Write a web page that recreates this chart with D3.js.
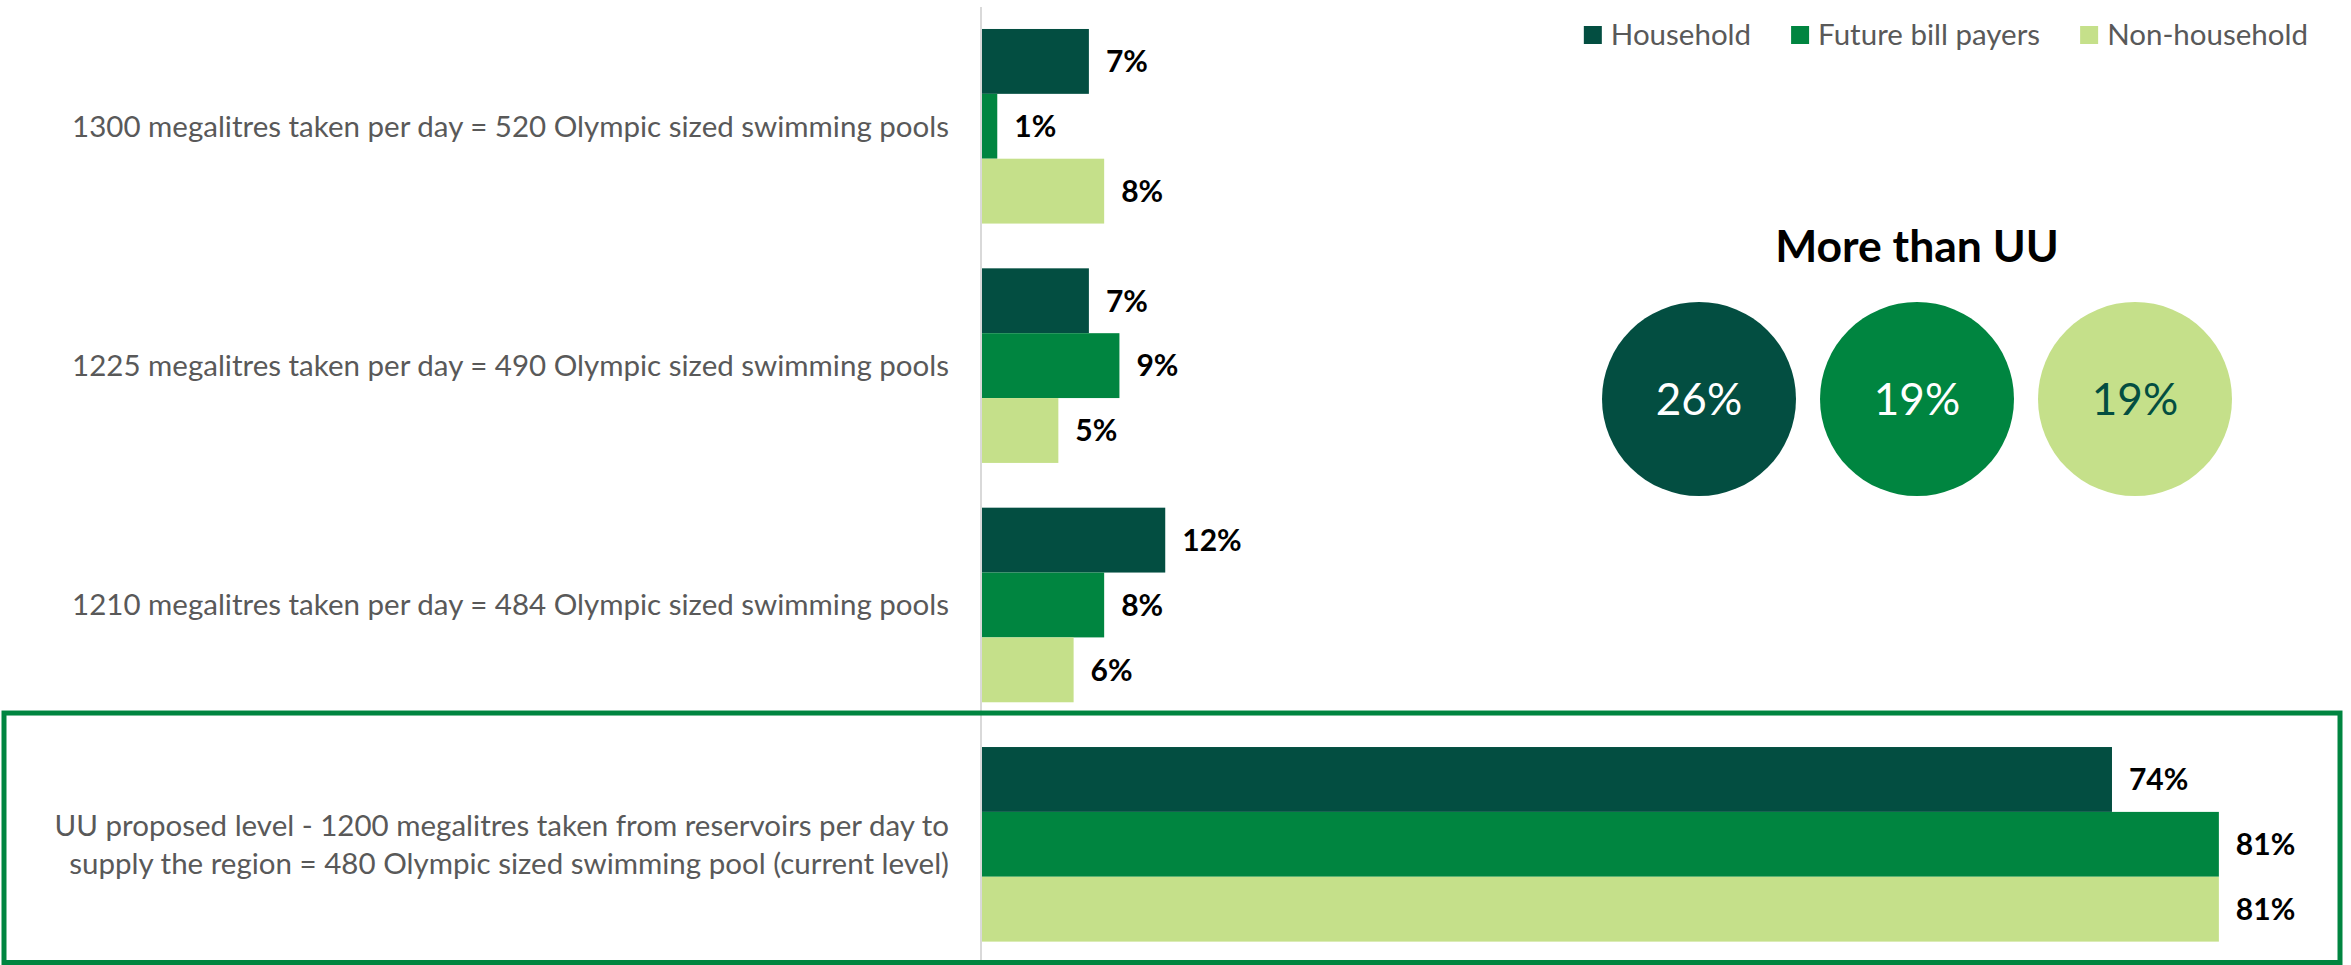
<!DOCTYPE html>
<html>
<head>
<meta charset="utf-8">
<script src="https://cdn.jsdelivr.net/npm/d3@7"></script>
<style>
  html, body { margin: 0; padding: 0; background: #ffffff; }
  svg { display: block; }
  text { font-family: Lato, "Open Sans", sans-serif; }
</style>
</head>
<body>
<svg id="chart" width="2351" height="965"></svg>
<script>
// Abstraction options and the share of each audience choosing them
const categories = [
  ["1300 megalitres taken per day = 520 Olympic sized swimming pools"],
  ["1225 megalitres taken per day = 490 Olympic sized swimming pools"],
  ["1210 megalitres taken per day = 484 Olympic sized swimming pools"],
  ["UU proposed level - 1200 megalitres taken from reservoirs per day to",
   "supply the region = 480 Olympic sized swimming pool (current level)"]
];
const series = ["Household", "Future bill payers", "Non-household"];
const household      = [7, 7, 12, 74];
const futureBill     = [1, 9, 8, 81];
const nonHousehold   = [8, 5, 6, 81];
const seriesValues = [household, futureBill, nonHousehold];

// "More than UU" summary bubbles
const moreThanUU = [26, 19, 19];
const summaryTitle = "More than UU";

const colors = ["#034E41", "#008540", "#C5E08A"];
const bubbleText = ["#ffffff", "#ffffff", "#034E41"];

const svg = d3.select("#chart");
const catKeys = categories.map((c, i) => i);

const x = d3.scaleLinear().domain([0, 100]).range([982, 982 + 1527]);
const y = d3.scaleBand().domain(catKeys).range([6.6, 964])
  .paddingInner(0.187).paddingOuter(0.0935);
const ySub = d3.scaleBand().domain(series).range([0, y.bandwidth()]);

// vertical baseline at zero
svg.append("line")
  .attr("x1", x(0) - 1).attr("x2", x(0) - 1)
  .attr("y1", 7).attr("y2", 965)
  .attr("stroke", "#d9d9d9").attr("stroke-width", 2);

// bars
const groups = svg.selectAll("g.cat").data(catKeys).join("g")
  .attr("class", "cat")
  .attr("transform", d => `translate(0,${y(d)})`);

groups.each(function(ci) {
  const g = d3.select(this);
  const rows = series.map((s, si) => ({ s, si, v: seriesValues[si][ci] }));
  g.selectAll("rect").data(rows).join("rect")
    .attr("x", x(0))
    .attr("y", d => ySub(d.s))
    .attr("width", d => x(d.v) - x(0))
    .attr("height", ySub.bandwidth())
    .attr("fill", d => colors[d.si]);
  g.selectAll("text.val").data(rows).join("text")
    .attr("class", "val")
    .attr("x", d => x(d.v) + 17)
    .attr("y", d => ySub(d.s) + ySub.bandwidth() / 2)
    .attr("dy", "0.36em")
    .attr("font-size", 30)
    .attr("font-weight", 700)
    .attr("fill", "#000000")
    .text(d => d.v + "%");
});

// category labels (right aligned against the baseline)
const lineGap = 38;
svg.selectAll("text.cat").data(catKeys).join("text")
  .attr("class", "cat")
  .attr("text-anchor", "end")
  .attr("font-size", 29.5)
  .attr("fill", "#595959")
  .each(function(ci) {
    const lines = categories[ci];
    const cy = y(ci) + y.bandwidth() / 2;
    const t = d3.select(this);
    lines.forEach((ln, li) => {
      t.append("tspan")
        .attr("x", 949)
        .attr("y", cy + (li - (lines.length - 1) / 2) * lineGap)
        .attr("dy", "0.35em")
        .text(ln);
    });
  });

// legend
const legend = svg.append("g");
const items = legend.selectAll("g").data(series).join("g");
items.append("rect").attr("width", 18).attr("height", 18).attr("y", 26)
  .attr("fill", (d, i) => colors[i]);
items.append("text").attr("x", 27).attr("y", 45)
  .attr("font-size", 29.5).attr("fill", "#595959").text(d => d);
let cursor = 0;
items.each(function() {
  const w = this.getBBox().width;
  d3.select(this).attr("transform", `translate(${cursor},0)`);
  cursor += w + 40;
});
const legendW = cursor - 40;
legend.attr("transform", `translate(${2308 - legendW},0)`);

// summary bubbles
const bx = d3.scaleBand().domain(d3.range(moreThanUU.length))
  .range([1590, 2244]).padding(0);
svg.append("text")
  .attr("x", bx(1) + bx.bandwidth() / 2).attr("y", 262)
  .attr("text-anchor", "middle")
  .attr("font-size", 44.5).attr("font-weight", 700).attr("fill", "#000000")
  .text(summaryTitle);
const bubbles = svg.selectAll("g.bub").data(moreThanUU).join("g")
  .attr("class", "bub")
  .attr("transform", (d, i) => `translate(${bx(i) + bx.bandwidth() / 2},399)`);
bubbles.append("circle").attr("r", 97).attr("fill", (d, i) => colors[i]);
bubbles.append("text")
  .attr("text-anchor", "middle").attr("y", 16)
  .attr("font-size", 44).attr("fill", (d, i) => bubbleText[i])
  .text(d => d + "%");

// highlight frame round the proposed level
svg.append("rect")
  .attr("x", 4).attr("y", y(3) - 34)
  .attr("width", 2336).attr("height", 965 - 2.5 - (y(3) - 34))
  .attr("fill", "none")
  .attr("stroke", "#008540").attr("stroke-width", 5);
</script>
</body>
</html>
